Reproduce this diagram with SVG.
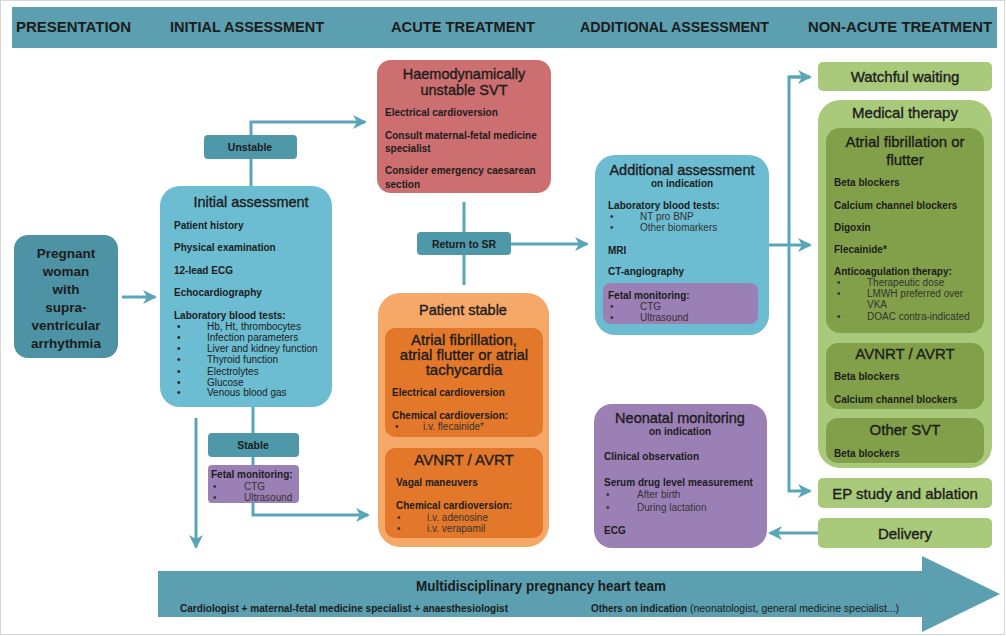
<svg xmlns="http://www.w3.org/2000/svg" width="1006" height="636" viewBox="0 0 1006 636">
<defs>
<style>
text{font-family:"Liberation Sans",Arial,sans-serif;fill:#1c1c1c}
.hd{font-size:15px;font-weight:bold}
.ti{font-size:14.5px;text-anchor:middle;stroke:#1c1c1c;stroke-width:0.35}
.tb{font-size:15px;text-anchor:middle;stroke:#1c1c1c;stroke-width:0.35}
.sub{font-size:10px;font-weight:bold;text-anchor:middle}
.it{font-size:10px;font-weight:bold}
.bu{font-size:10px;fill:#333}
.lb{font-size:10.5px;font-weight:bold;text-anchor:middle}
.conn{stroke:#5aa5b8;stroke-width:3;fill:none}
.teal{fill:#6cbcd2}
.lab{fill:#4f98aa}
.pur{fill:#9b80b6}
.red{fill:#cd6f70}
.lor{fill:#f6a868}
.dor{fill:#e4782a}
.lgr{fill:#a9c97b}
.dgr{fill:#82a04a}
</style>
<marker id="ah" markerUnits="userSpaceOnUse" markerWidth="14" markerHeight="14" refX="12" refY="7" orient="auto">
<path d="M0,0 L14,7 L0,14 L4,7 z" fill="#5aa5b8"/>
</marker>
</defs>
<rect x="0.5" y="0.5" width="1004" height="634" fill="#ffffff" stroke="#d6d6d6"/>

<g id="header">
<rect x="12" y="7" width="985" height="41" fill="#5b9fb1"/>
<text class="hd" x="16" y="32" textLength="115" lengthAdjust="spacingAndGlyphs">PRESENTATION</text>
<text class="hd" x="170" y="32" textLength="154" lengthAdjust="spacingAndGlyphs">INITIAL ASSESSMENT</text>
<text class="hd" x="391" y="32" textLength="144" lengthAdjust="spacingAndGlyphs">ACUTE TREATMENT</text>
<text class="hd" x="580" y="32" textLength="189" lengthAdjust="spacingAndGlyphs">ADDITIONAL ASSESSMENT</text>
<text class="hd" x="808" y="32" textLength="184" lengthAdjust="spacingAndGlyphs">NON-ACUTE TREATMENT</text>
</g>

<g id="team-arrow">
<path d="M158,571 H922 V556 L1000,594 L922,632 V617 H158 Z" fill="#5b9fb1"/>
<text x="541" y="591" font-size="15" font-weight="bold" text-anchor="middle" textLength="250" lengthAdjust="spacingAndGlyphs">Multidisciplinary pregnancy heart team</text>
<text x="180" y="612" font-size="11" font-weight="bold" textLength="328" lengthAdjust="spacingAndGlyphs">Cardiologist + maternal-fetal medicine specialist + anaesthesiologist</text>
<text x="591" y="612" font-size="11" font-weight="bold" textLength="96" lengthAdjust="spacingAndGlyphs">Others on indication</text>
<text x="690" y="612" font-size="11" fill="#333" textLength="209" lengthAdjust="spacingAndGlyphs">(neonatologist, general medicine specialist...)</text>
</g>

<g id="connectors">
<path class="conn" d="M122,297 H155" marker-end="url(#ah)"/>
<path class="conn" d="M251,186 V122 H365" marker-end="url(#ah)"/>
<path class="conn" d="M253,407 V515 H368" marker-end="url(#ah)"/>
<path class="conn" d="M196,418 V547" marker-end="url(#ah)"/>
<path class="conn" d="M464,202 V285"/>
<path class="conn" d="M511,244 H587" marker-end="url(#ah)"/>
<path class="conn" d="M769,245 H810" marker-end="url(#ah)"/>
<path class="conn" d="M810,77 H789 V491 H810" marker-end="url(#ah)"/>
<path class="conn" d="M789,77 H810" marker-end="url(#ah)"/>
<path class="conn" d="M818,533 H770" marker-end="url(#ah)"/>
</g>

<g id="presentation">
<rect x="14" y="235" width="104" height="123" rx="14" fill="#4e93a5"/>
<text x="66" y="258" font-size="13.5" font-weight="bold" text-anchor="middle">Pregnant</text>
<text x="66" y="276" font-size="13.5" font-weight="bold" text-anchor="middle">woman</text>
<text x="66" y="294" font-size="13.5" font-weight="bold" text-anchor="middle">with</text>
<text x="66" y="312" font-size="13.5" font-weight="bold" text-anchor="middle">supra-</text>
<text x="66" y="330" font-size="13.5" font-weight="bold" text-anchor="middle">ventricular</text>
<text x="66" y="348" font-size="13.5" font-weight="bold" text-anchor="middle">arrhythmia</text>
</g>

<g id="initial-assessment">
<rect class="teal" x="160" y="186" width="172" height="221" rx="20"/>
<text class="ti" x="251" y="207">Initial assessment</text>
<text class="it" x="174" y="229">Patient history</text>
<text class="it" x="174" y="251">Physical examination</text>
<text class="it" x="174" y="274">12-lead ECG</text>
<text class="it" x="174" y="296">Echocardiography</text>
<text class="it" x="174" y="319">Laboratory blood tests:</text>
<g class="bu">
<text x="177" y="330">•</text><text x="207" y="330">Hb, Ht, thrombocytes</text>
<text x="177" y="341">•</text><text x="207" y="341">Infection parameters</text>
<text x="177" y="352">•</text><text x="207" y="352">Liver and kidney function</text>
<text x="177" y="363">•</text><text x="207" y="363">Thyroid function</text>
<text x="177" y="375">•</text><text x="207" y="375">Electrolytes</text>
<text x="177" y="386">•</text><text x="207" y="386">Glucose</text>
<text x="177" y="396">•</text><text x="207" y="396">Venous blood gas</text>
</g>
</g>

<g id="unstable">
<rect class="lab" x="204" y="135" width="93" height="24" rx="4"/>
<text class="lb" x="250" y="151">Unstable</text>
</g>

<g id="stable">
<rect class="lab" x="208" y="433" width="91" height="24" rx="4"/>
<text class="lb" x="253" y="449">Stable</text>
</g>

<g id="fetal-monitoring-1">
<rect class="pur" x="208" y="465" width="91" height="38" rx="4"/>
<text class="it" x="211" y="478">Fetal monitoring:</text>
<text class="bu" x="213" y="490">•</text><text class="bu" x="244" y="490">CTG</text>
<text class="bu" x="213" y="501">•</text><text class="bu" x="244" y="501">Ultrasound</text>
</g>

<g id="haemodynamically-unstable">
<rect class="red" x="377" y="60" width="174" height="133" rx="14"/>
<text class="ti" x="464" y="79">Haemodynamically</text>
<text class="ti" x="464" y="95">unstable SVT</text>
<text class="it" x="385" y="116">Electrical cardioversion</text>
<text class="it" x="385" y="139">Consult maternal-fetal medicine</text>
<text class="it" x="385" y="152">specialist</text>
<text class="it" x="385" y="174">Consider emergency caesarean</text>
<text class="it" x="385" y="188">section</text>
</g>

<g id="return-to-sr">
<rect class="lab" x="417" y="232" width="94" height="23" rx="4"/>
<text class="lb" x="464" y="248">Return to SR</text>
</g>

<g id="patient-stable">
<rect class="lor" x="378" y="293" width="171" height="254" rx="22"/>
<text class="ti" x="463" y="315">Patient stable</text>
<rect class="dor" x="385" y="328" width="158" height="109" rx="10"/>
<text class="tb" x="464" y="345">Atrial fibrillation,</text>
<text class="tb" x="464" y="360">atrial flutter or atrial</text>
<text class="tb" x="464" y="375">tachycardia</text>
<text class="it" x="392" y="396">Electrical cardioversion</text>
<text class="it" x="392" y="419">Chemical cardioversion:</text>
<text class="bu" x="395" y="430">•</text><text class="bu" x="423" y="430">i.v. flecainide*</text>
<rect class="dor" x="385" y="448" width="158" height="90" rx="10"/>
<text class="tb" x="464" y="465">AVNRT / AVRT</text>
<text class="it" x="396" y="486">Vagal maneuvers</text>
<text class="it" x="396" y="509">Chemical cardioversion:</text>
<text class="bu" x="397" y="521">•</text><text class="bu" x="427" y="521">i.v. adenosine</text>
<text class="bu" x="397" y="532">•</text><text class="bu" x="427" y="532">i.v. verapamil</text>
</g>

<g id="additional-assessment">
<rect class="teal" x="595" y="155" width="174" height="180" rx="20"/>
<text class="ti" x="682" y="175">Additional assessment</text>
<text class="sub" x="682" y="187">on indication</text>
<text class="it" x="608" y="209">Laboratory blood tests:</text>
<text class="bu" x="610" y="220">•</text><text class="bu" x="640" y="220">NT pro BNP</text>
<text class="bu" x="610" y="231">•</text><text class="bu" x="640" y="231">Other biomarkers</text>
<text class="it" x="608" y="254">MRI</text>
<text class="it" x="608" y="275">CT-angiography</text>
<rect class="pur" x="603" y="283" width="155" height="41" rx="8"/>
<text class="it" x="608" y="299">Fetal monitoring:</text>
<text class="bu" x="610" y="310">•</text><text class="bu" x="640" y="310">CTG</text>
<text class="bu" x="610" y="321">•</text><text class="bu" x="640" y="321">Ultrasound</text>
</g>

<g id="neonatal-monitoring">
<rect class="pur" x="594" y="404" width="173" height="144" rx="18"/>
<text class="ti" x="680" y="423">Neonatal monitoring</text>
<text class="sub" x="680" y="435">on indication</text>
<text class="it" x="604" y="460">Clinical observation</text>
<text class="it" x="604" y="486">Serum drug level measurement</text>
<text class="bu" x="606" y="498">•</text><text class="bu" x="637" y="498">After birth</text>
<text class="bu" x="606" y="511">•</text><text class="bu" x="637" y="511">During lactation</text>
<text class="it" x="604" y="534">ECG</text>
</g>

<g id="watchful-waiting">
<rect class="lgr" x="818" y="62" width="174" height="29" rx="5"/>
<text class="tb" x="905" y="82">Watchful waiting</text>
</g>

<g id="medical-therapy">
<rect class="lgr" x="818" y="100" width="174" height="368" rx="22"/>
<text class="tb" x="905" y="118">Medical therapy</text>
<rect class="dgr" x="826" y="128" width="158" height="205" rx="14"/>
<text class="tb" x="905" y="147">Atrial fibrillation or</text>
<text class="tb" x="905" y="165">flutter</text>
<text class="it" x="834" y="186">Beta blockers</text>
<text class="it" x="834" y="209">Calcium channel blockers</text>
<text class="it" x="834" y="231">Digoxin</text>
<text class="it" x="834" y="253">Flecainide*</text>
<text class="it" x="834" y="275">Anticoagulation therapy:</text>
<text class="bu" x="837" y="286">•</text><text class="bu" x="867" y="286">Therapeutic dose</text>
<text class="bu" x="837" y="297">•</text><text class="bu" x="867" y="297">LMWH preferred over</text>
<text class="bu" x="867" y="308">VKA</text>
<text class="bu" x="837" y="320">•</text><text class="bu" x="867" y="320">DOAC contra-indicated</text>
<rect class="dgr" x="826" y="343" width="158" height="66" rx="12"/>
<text class="tb" x="905" y="359">AVNRT / AVRT</text>
<text class="it" x="834" y="380">Beta blockers</text>
<text class="it" x="834" y="403">Calcium channel blockers</text>
<rect class="dgr" x="826" y="418" width="158" height="45" rx="12"/>
<text class="tb" x="905" y="435">Other SVT</text>
<text class="it" x="834" y="457">Beta blockers</text>
</g>

<g id="ep-study">
<rect class="lgr" x="818" y="478" width="174" height="30" rx="5"/>
<text class="tb" x="905" y="499">EP study and ablation</text>
</g>

<g id="delivery">
<rect class="lgr" x="818" y="518" width="174" height="30" rx="5"/>
<text class="tb" x="905" y="539">Delivery</text>
</g>
</svg>
